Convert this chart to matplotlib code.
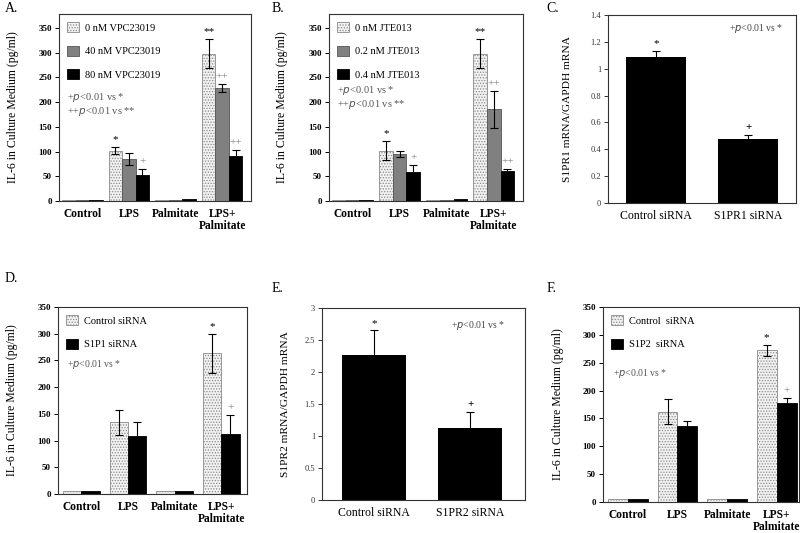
import matplotlib
import matplotlib.pyplot as plt
from matplotlib.ticker import FuncFormatter

matplotlib.use('agg')

plt.rcParams['font.family'] = ['Liberation Serif', 'DejaVu Serif']
plt.rcParams['hatch.linewidth'] = 0.6

groups = ['Control', 'LPS', 'Palmitate', 'LPS+\nPalmitate']

# Panel A - VPC23019
a_labels = ['0 nM VPC23019', '40 nM VPC23019', '80 nM VPC23019']
a_vals = [[3, 102, 3, 298], [3, 85, 3, 228], [3, 53, 5, 91]]
a_errs = [[0, 8, 0, 30], [0, 13, 0, 8], [0, 11, 0, 13]]
a_marks = [(0, 1, '*'), (2, 1, '+'), (0, 3, '**'), (1, 3, '++'), (2, 3, '++')]

# Panel B - JTE013
b_labels = ['0 nM JTE013', '0.2 nM JTE013', '0.4 nM JTE013']
b_vals = [[3, 102, 3, 298], [3, 95, 3, 185], [3, 58, 5, 61]]
b_errs = [[0, 20, 0, 30], [0, 6, 0, 38], [0, 14, 0, 4]]
b_marks = [(0, 1, '*'), (2, 1, '+'), (0, 3, '**'), (1, 3, '++'), (2, 3, '++')]

# Panel C - S1PR1 mRNA
c_cats = ['Control siRNA', 'S1PR1 siRNA']
c_vals = [1.085, 0.48]
c_errs = [0.045, 0.025]
c_marks = ['*', '+']

# Panel D - S1P1 siRNA
d_labels = ['Control siRNA', 'S1P1 siRNA']
d_vals = [[5, 134, 5, 263], [5, 109, 5, 113]]
d_errs = [[0, 23, 0, 37], [0, 25, 0, 35]]
d_marks = [(0, 3, '*'), (1, 3, '+')]

# Panel E - S1PR2 mRNA
e_cats = ['Control siRNA', 'S1PR2 siRNA']
e_vals = [2.27, 1.13]
e_errs = [0.38, 0.25]
e_marks = ['*', '+']

# Panel F - S1P2 siRNA
f_labels = ['Control  siRNA', 'S1P2  siRNA']
f_vals = [[5, 162, 6, 272], [5, 136, 6, 178]]
f_errs = [[0, 22, 0, 10], [0, 9, 0, 9]]
f_marks = [(0, 3, '*'), (1, 3, '+')]

dotted = dict(facecolor='#f2f2f2', edgecolor='#8a8a8a', hatch='......', linewidth=0.6)
grey = dict(facecolor='#808080', edgecolor='#555555', linewidth=0.6)
black = dict(facecolor='black', edgecolor='black', linewidth=0.6)

note1 = r'+$\it{p}$<0.01 vs *'
note2 = r'+$\it{p}$<0.01 vs *' + '\n' + r'++$\it{p}$<0.01 vs **'

W, H = 800, 533
fig = plt.figure(figsize=(8, 5.33), dpi=100)


def add_ax(x0, y0, x1, y1):
    # pixel box -> figure fraction
    return fig.add_axes([x0 / W, 1 - y1 / H, (x1 - x0) / W, (y1 - y0) / H])


def style_ax(ax, bold=True):
    for s in ax.spines.values():
        s.set_linewidth(0.8)
        s.set_color('#333333')
    ax.tick_params(axis='x', length=0, pad=5)
    ax.tick_params(axis='y', direction='out', length=3, width=0.7, pad=2)
    for t in ax.get_yticklabels():
        t.set_fontweight('bold' if bold else 'normal')


def grouped(ax, vals, errs, labels, styles, width, marks, mark_colors):
    n = len(vals)
    xs = range(len(groups))
    for i in range(n):
        pos = [x + (i - (n - 1) / 2) * width for x in xs]
        ax.bar(pos, vals[i], width, label=labels[i], **styles[i])
        # only the bars that carry an error bar
        ep = [p for p, e in zip(pos, errs[i]) if e > 0]
        ev = [v for v, e in zip(vals[i], errs[i]) if e > 0]
        ee = [e for e in errs[i] if e > 0]
        ax.errorbar(ep, ev, yerr=ee, fmt='none', ecolor='black',
                    elinewidth=0.8, capsize=3, capthick=0.8)
    for i, g, s in marks:
        x = g + (i - (n - 1) / 2) * width
        top = vals[i][g] + errs[i][g]
        ax.annotate(s, (x, top), xytext=(0, 2), textcoords='offset points',
                    ha='center', va='bottom', fontsize=8,
                    color=mark_colors.get(s, 'black'))
    ax.set_xticks(list(xs))
    ax.set_xticklabels(groups, fontsize=8.3, fontweight='bold', linespacing=1.0)
    ax.set_ylabel('IL-6 in Culture Medium (pg/ml)', fontsize=8.5)
    ax.tick_params(axis='y', labelsize=6.5)
    ax.legend(loc='upper left', bbox_to_anchor=(0.01, 0.99), frameon=False,
              fontsize=7.5, handlelength=1.1, handleheight=1.1,
              labelspacing=1.25, handletextpad=0.6, borderaxespad=0.2)


def single(ax, cats, vals, errs, marks, ylabel, note_xy):
    ax.bar(range(len(cats)), vals, 0.66, color='black')
    ax.errorbar(range(len(cats)), vals, yerr=errs, fmt='none', ecolor='black',
                elinewidth=0.8, capsize=3, capthick=0.8)
    for i, s in enumerate(marks):
        ax.annotate(s, (i, vals[i] + errs[i]), xytext=(0, 2),
                    textcoords='offset points', ha='center', va='bottom',
                    fontsize=8, fontweight='bold' if s == '+' else 'normal')
    ax.set_xticks(range(len(cats)))
    ax.set_xticklabels(cats, fontsize=8.5)
    ax.set_xlim(-0.52, 1.52)
    ax.set_ylabel(ylabel, fontsize=8.2)
    ax.tick_params(axis='y', labelsize=6, colors='#333333')
    ax.yaxis.set_major_formatter(FuncFormatter(lambda v, p: '%g' % v))
    ax.text(note_xy[0], note_xy[1], note1, transform=ax.transAxes,
            ha='center', va='center', fontsize=7, color='#444444')


plus_col = {'+': '#777777', '++': '#777777'}

# A
axA = add_ax(59, 14, 251, 201)
grouped(axA, a_vals, a_errs, a_labels, [dotted, grey, black], 0.29, a_marks, plus_col)
axA.set_xlim(-0.5, 3.62)
axA.set_ylim(0, 378)
axA.set_yticks(range(0, 351, 50))
axA.yaxis.set_label_coords(-0.21, 0.5)
axA.text(0.04, 0.515, note2, transform=axA.transAxes, va='center',
         fontsize=7.5, color='#555555', linespacing=1.15)
style_ax(axA)

# B
axB = add_ax(329, 14, 523, 201)
grouped(axB, b_vals, b_errs, b_labels, [dotted, grey, black], 0.29, b_marks, plus_col)
axB.set_xlim(-0.5, 3.62)
axB.set_ylim(0, 378)
axB.set_yticks(range(0, 351, 50))
axB.yaxis.set_label_coords(-0.21, 0.5)
axB.text(0.04, 0.555, note2, transform=axB.transAxes, va='center',
         fontsize=7.5, color='#555555', linespacing=1.15)
style_ax(axB)

# C
axC = add_ax(608, 15, 796, 203)
single(axC, c_cats, c_vals, c_errs, c_marks, 'S1PR1 mRNA/GAPDH mRNA', (0.79, 0.93))
axC.set_ylim(0, 1.4)
axC.set_yticks([0, 0.2, 0.4, 0.6, 0.8, 1, 1.2, 1.4])
axC.yaxis.set_label_coords(-0.19, 0.5)
style_ax(axC, bold=False)

# D
axD = add_ax(58, 307, 247, 494)
grouped(axD, d_vals, d_errs, d_labels, [dotted, black], 0.39, d_marks, plus_col)
axD.set_xlim(-0.5, 3.55)
axD.set_ylim(0, 350)
axD.set_yticks(range(0, 351, 50))
axD.yaxis.set_label_coords(-0.21, 0.5)
axD.text(0.05, 0.69, note1, transform=axD.transAxes, va='center',
         fontsize=7, color='#555555')
style_ax(axD)

# E
axE = add_ax(322, 308, 525, 500)
single(axE, e_cats, e_vals, e_errs, e_marks, 'S1PR2 mRNA/GAPDH mRNA', (0.77, 0.91))
axE.set_ylim(0, 3)
axE.set_yticks([0, 0.5, 1, 1.5, 2, 2.5, 3])
axE.set_xlim(-0.54, 1.57)
axE.yaxis.set_label_coords(-0.16, 0.5)
style_ax(axE, bold=False)

# F
axF = add_ax(603, 307, 799, 502)
grouped(axF, f_vals, f_errs, f_labels, [dotted, black], 0.4, f_marks, plus_col)
axF.set_xlim(-0.5, 3.45)
axF.set_ylim(0, 350)
axF.set_yticks(range(0, 351, 50))
axF.yaxis.set_label_coords(-0.2, 0.5)
axF.text(0.05, 0.66, note1, transform=axF.transAxes, va='center',
         fontsize=7, color='#555555')
style_ax(axF)

for lbl, x, y in [('A.', 5, 8), ('B.', 272, 8), ('C.', 546, 8),
                  ('D.', 5, 278), ('E.', 272, 288), ('F.', 547, 288)]:
    fig.text(x / W, 1 - y / H, lbl, fontsize=10, va='center', ha='left')

fig.savefig('out.png', dpi=100)
